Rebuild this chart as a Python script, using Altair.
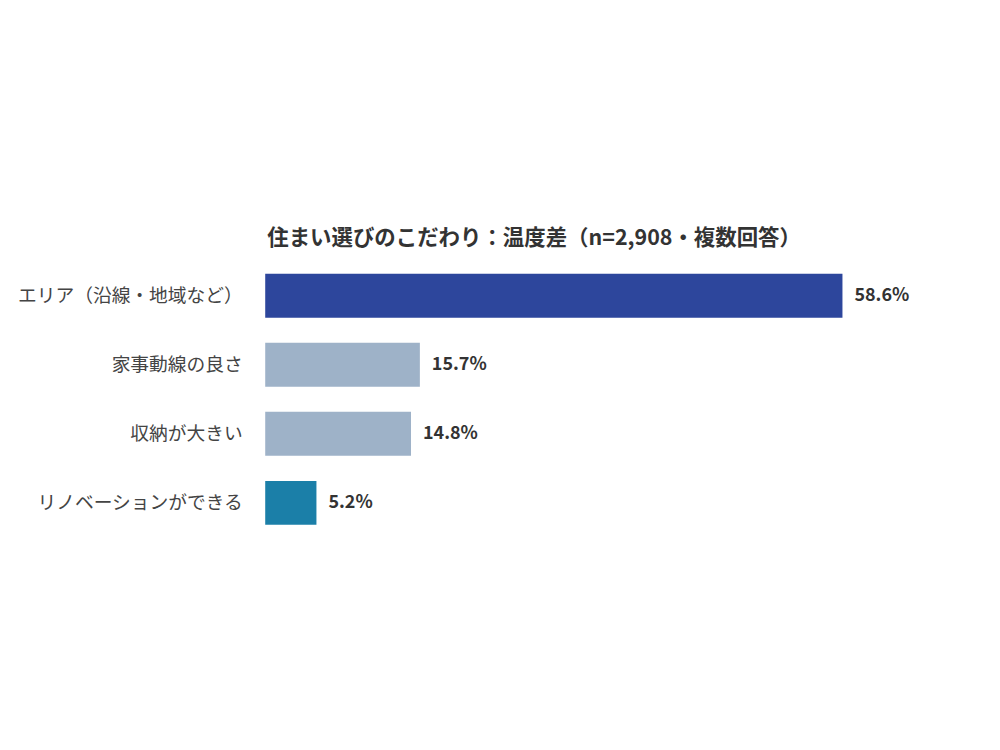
import altair as alt
import pandas as pd

categories = ["エリア（沿線・地域など）", "家事動線の良さ", "収納が大きい", "リノベーションができる"]
values = [58.6, 15.7, 14.8, 5.2]
colors = ["#2d469c", "#9eb2c8", "#9eb2c8", "#1b7fa8"]
title_text = "住まい選びのこだわり：温度差（n=2,908・複数回答）"

df = pd.DataFrame({
    "item": categories,
    "value": values,
    "color": colors,
    "label": [f"{v:.1f}%" for v in values],
})

FONT = "Noto Sans CJK JP"

base = alt.Chart(df).encode(
    y=alt.Y("item:N", sort=categories, title=None,
            scale=alt.Scale(paddingInner=0.365, paddingOuter=0.1825),
            axis=alt.Axis(domain=False, ticks=False, grid=False, labelPadding=23,
                          labelFont=FONT, labelFontSize=18.8, labelColor="#444444",
                          labelLimit=300)),
    x=alt.X("value:Q", title=None,
            scale=alt.Scale(domain=[0, 58.6], nice=False, zero=True),
            axis=None),
)

bars = base.mark_bar().encode(color=alt.Color("color:N", scale=None))
text = base.mark_text(align="left", baseline="middle", dx=12, font=FONT,
                      fontSize=18, fontWeight="bold", color="#333333").encode(
    text="label:N")

chart = (bars + text).properties(
    width=579,
    height=277,
    background="white",
    title=alt.TitleParams(title_text, anchor="start", frame="group", font=FONT,
                          fontSize=21.5, fontWeight="bold", color="#333333",
                          offset=12, dx=2),
    autosize=alt.AutoSizeParams(type="none"),
    padding={"left": 258, "top": 253, "right": 150, "bottom": 100},
).configure_view(strokeWidth=0, stroke="transparent")

chart.save("out.html", embed_options={"renderer": "svg", "actions": False})
